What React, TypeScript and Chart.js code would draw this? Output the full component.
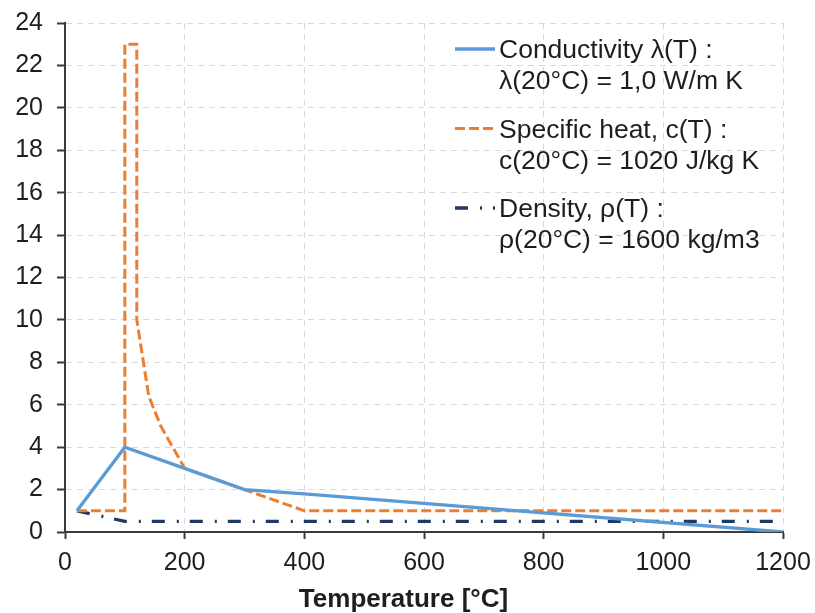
import React, { useEffect, useRef } from 'react';
import { Chart, registerables } from 'chart.js';

Chart.register(...registerables);

// ---- Data ----
const conductivityT = [20, 100, 200, 300, 400, 1200];
const conductivity = [1, 4, 3, 2, 1.8, 0];

const specificHeatT = [20, 100, 100, 120, 120, 140, 160, 200, 400, 1200];
const specificHeat = [1, 1, 23, 23, 10, 6.4, 5.0, 3, 1, 1];

const densityT = [20, 100, 1200];
const density = [1, 0.5, 0.5];

const seriesNames = [
  ['Conductivity λ(T) :', 'λ(20°C) = 1,0 W/m K'],
  ['Specific heat, c(T) :', 'c(20°C) = 1020 J/kg K'],
  ['Density, ρ(T) :', 'ρ(20°C) = 1600 kg/m3'],
];

const xAxisTitle = 'Temperature [°C]';
const xMin = 0;
const xMax = 1200;
const xStep = 200;
const yMin = 0;
const yMax = 24;
const yStep = 2;

const FONT = '"Liberation Sans", Arial, sans-serif';
const TEXT_COLOR = '#1e1e1e';

const toPoints = (xs: number[], ys: number[]) => xs.map((x, i) => ({ x, y: ys[i] }));

const overlayPlugin = {
  id: 'overlay',
  afterDraw(chart: any) {
    const ctx = chart.ctx as CanvasRenderingContext2D;
    const area = chart.chartArea;
    ctx.save();
    const lx0 = area.left + 390;
    const lx1 = lx0 + 40;
    const tx = lx1 + 4;
    const baseY = 49;
    const entryGap = 79.5;
    const lineGap = 31;
    chart.data.datasets.forEach((ds: any, i: number) => {
      const y = baseY + i * entryGap;
      ctx.beginPath();
      ctx.setLineDash(ds.borderDash || []);
      ctx.lineCap = 'butt';
      ctx.strokeStyle = ds.borderColor;
      ctx.lineWidth = ds.borderWidth;
      ctx.moveTo(lx0, y);
      ctx.lineTo(lx1, y);
      ctx.stroke();
      ctx.setLineDash([]);
      ctx.fillStyle = TEXT_COLOR;
      ctx.font = `26.5px ${FONT}`;
      ctx.textAlign = 'left';
      ctx.textBaseline = 'middle';
      seriesNames[i].forEach((t, j) => ctx.fillText(t, tx, y + 2 + j * lineGap));
    });
    ctx.font = `bold 26px ${FONT}`;
    ctx.textAlign = 'center';
    ctx.textBaseline = 'alphabetic';
    ctx.fillStyle = TEXT_COLOR;
    ctx.fillText(xAxisTitle, chart.width / 2 - 4, 607);
    ctx.restore();
  },
};

export default function App() {
  const canvasRef = useRef<HTMLCanvasElement | null>(null);

  useEffect(() => {
    document.body.style.margin = '0';
    const canvas = canvasRef.current;
    if (!canvas) return;
    const axisColor = '#3a3a3a';
    const gridColor = '#d9d9d9';
    const chart = new Chart(canvas, {
      type: 'line',
      data: {
        datasets: [
          {
            label: seriesNames[0].join(' '),
            data: toPoints(conductivityT, conductivity),
            borderColor: '#5B9BD5',
            backgroundColor: '#5B9BD5',
            borderWidth: 3.3,
            pointRadius: 0,
            tension: 0,
            fill: false,
          },
          {
            label: seriesNames[1].join(' '),
            data: toPoints(specificHeatT, specificHeat),
            borderColor: '#ED7D31',
            backgroundColor: '#ED7D31',
            borderWidth: 3,
            borderDash: [10, 4],
            pointRadius: 0,
            tension: 0,
            fill: false,
          },
          {
            label: seriesNames[2].join(' '),
            data: toPoints(densityT, density),
            borderColor: '#1F3864',
            backgroundColor: '#1F3864',
            borderWidth: 3.3,
            borderDash: [13, 12, 2, 11],
            pointRadius: 0,
            tension: 0,
            fill: false,
          },
        ],
      },
      options: {
        responsive: false,
        animation: false,
        devicePixelRatio: 1,
        layout: { padding: { top: 23, right: 32, bottom: 0, left: 0 } },
        plugins: {
          legend: { display: false },
          tooltip: { enabled: false },
          title: { display: false },
        },
        scales: {
          x: {
            type: 'linear',
            min: xMin,
            max: xMax,
            ticks: {
              stepSize: xStep,
              color: TEXT_COLOR,
              font: { family: FONT, size: 25 },
              padding: 9,
              maxRotation: 0,
              callback: (v: any) => String(v),
            },
            grid: {
              color: gridColor,
              lineWidth: 1,
              tickLength: 7,
              tickColor: axisColor,
              tickWidth: 2,
              tickBorderDash: [],
            },
            border: { display: true, color: axisColor, width: 2, dash: [6, 5] },
            afterFit: (scale: any) => {
              scale.height = 81;
              scale.paddingLeft = 0;
              scale.paddingRight = 0;
            },
          },
          y: {
            type: 'linear',
            min: yMin,
            max: yMax,
            ticks: {
              stepSize: yStep,
              color: TEXT_COLOR,
              font: { family: FONT, size: 25 },
              padding: 14,
              callback: (v: any) => String(v),
            },
            grid: {
              color: gridColor,
              lineWidth: 1,
              tickLength: 8,
              tickColor: axisColor,
              tickWidth: 2,
              tickBorderDash: [],
            },
            border: { display: true, color: axisColor, width: 2, dash: [6, 5] },
            afterFit: (scale: any) => {
              scale.width = 65;
              scale.paddingTop = 0;
              scale.paddingBottom = 0;
            },
          },
        },
      },
      plugins: [overlayPlugin],
    } as any);
    return () => chart.destroy();
  }, []);

  return (
    <div style={{ width: 815, height: 613, background: '#fff' }}>
      <canvas ref={canvasRef} width={815} height={613} />
    </div>
  );
}
